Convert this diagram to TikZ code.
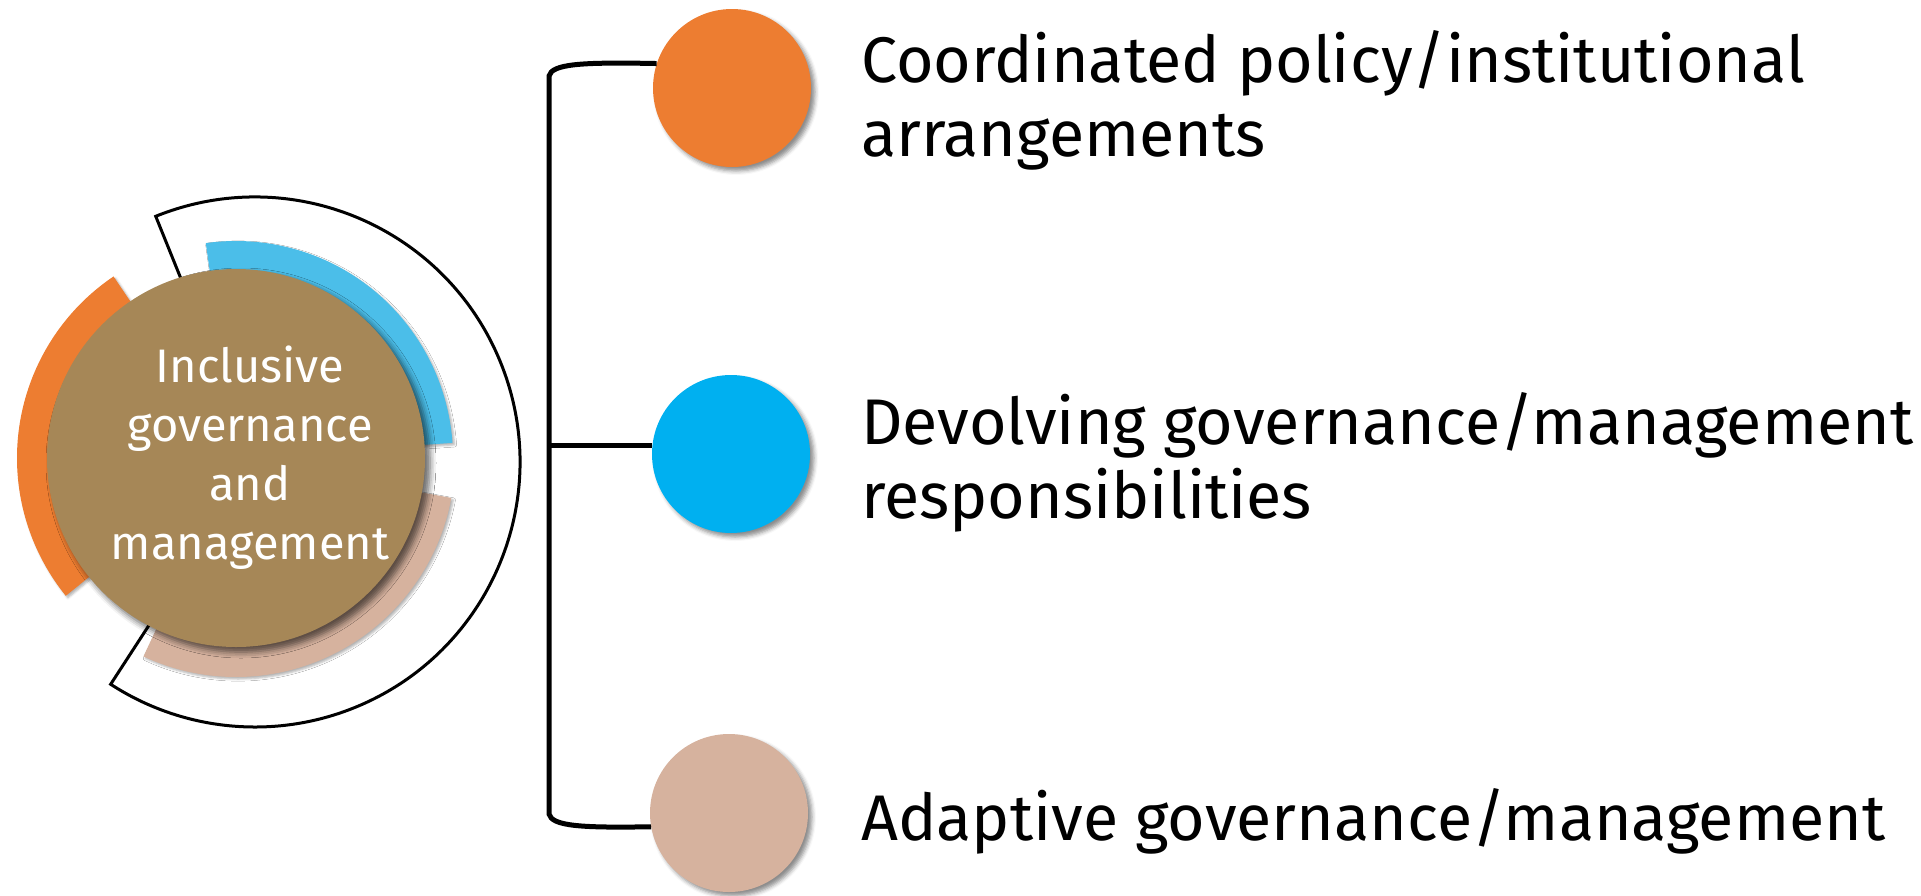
\documentclass[tikz,border=0pt]{standalone}
\usepackage{fontspec}
\setmainfont{Fira Sans}
\usetikzlibrary{shadows.blur}

\definecolor{ringorange}{RGB}{237,125,49}
\definecolor{ringblue}{RGB}{75,190,233}
\definecolor{ringtan}{RGB}{214,178,158}
\definecolor{hubbrown}{RGB}{166,135,87}
\definecolor{dotblue}{RGB}{0,176,240}

\begin{document}
\begin{tikzpicture}[x=1pt,y=1pt]
    \tikzstyle{every node}+=[inner sep=0pt]
    \tikzstyle{bubble}=[circle, minimum size=158, blur shadow={shadow xshift=4pt, shadow yshift=-4pt, shadow blur radius=4pt, shadow opacity=45}]
    \tikzstyle{itemtext}=[anchor=base west, align=left, font=\fontsize{64.5}{74}\selectfont]
    \tikzstyle{connector}=[black, line width=5]
    \useasboundingbox (0,0) rectangle (1921,-895);
    % open ring behind the hub
    \filldraw [fill=white, draw=black, line width=3, shift={(255,-462)}] (112:265) arc (112:-123:265) -- (-123:150) arc (-123:112:150) -- cycle;
    % coloured segments
    \fill [ringorange, shift={(236,-458)}, blur shadow={shadow xshift=2pt, shadow yshift=-2pt, shadow opacity=30}] (124:219) arc (124:219:219) -- (219:160) arc (219:124:160) -- cycle;
    \fill [ringblue, shift={(236,-458)}, blur shadow={shadow xshift=2pt, shadow yshift=-2pt, shadow opacity=30}] (98:217) arc (98:4:217) -- (4:160) arc (4:98:160) -- cycle;
    \fill [ringtan, shift={(236,-458)}, blur shadow={shadow xshift=2pt, shadow yshift=-2pt, shadow opacity=30}] (-10.5:219) arc (-10.5:-115:219) -- (-115:160) arc (-115:-10.5:160) -- cycle;
    % hub
    \node [bubble, fill=hubbrown, minimum size=378, blur shadow={shadow xshift=5pt, shadow yshift=-5pt, shadow blur radius=6pt, shadow opacity=35}] (hub) at (236,-458) {};
    \node [text=white, align=center, font=\fontsize{47}{59}\selectfont] (hubtext) at (250,-458) {Inclusive\\governance\\and\\management};
    % right-hand items
    \node [bubble, fill=ringorange] (c1) at (732,-88) {};
    \node [bubble, fill=dotblue] (c2) at (731,-454) {};
    \node [bubble, fill=ringtan] (c3) at (729,-813) {};
    \node [itemtext] (t1) at (861,-156) {Coordinated policy/institutional\\arrangements};
    \node [itemtext] (t2) at (861,-518) {Devolving governance/management\\responsibilities};
    \node [itemtext] (t3) at (861,-840) {Adaptive governance/management};
    % bracket
    \coordinate (btop) at (549,-76);
    \coordinate (bbot) at (549,-814);
    \draw [connector] (c1.162) .. controls (580,-62) and (552,-64) .. (btop) -- (bbot) .. controls (552,-826) and (580,-828) .. (c3.190);
    \draw [connector] (c2.174) -- (c2.174 -| btop);
\end{tikzpicture}
\end{document}
